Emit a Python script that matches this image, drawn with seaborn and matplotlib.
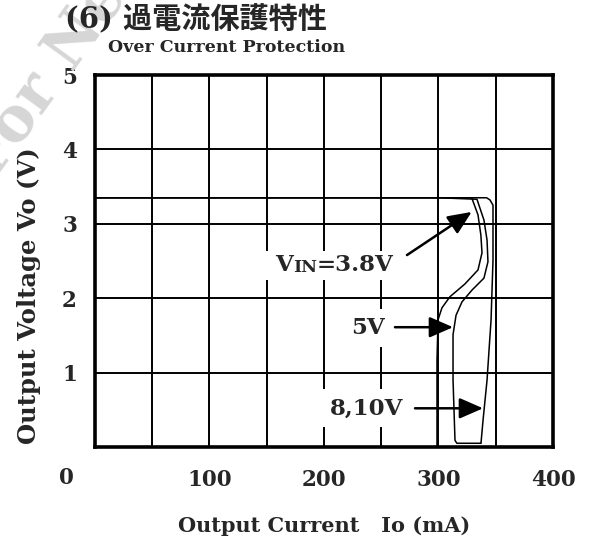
import matplotlib
matplotlib.use("Agg")
import matplotlib.pyplot as plt
from matplotlib.patches import Rectangle
import seaborn as sns
import pandas as pd

# Over-current protection curves: output current Io (mA) vs output voltage Vo (V)
io_38v = [0, 100, 200, 300, 329, 334.5, 337, 338, 334.5, 323, 310, 303, 299.6, 298.7, 298.7]
vo_38v = [3.35, 3.35, 3.35, 3.35, 3.35, 3.12, 2.85, 2.61, 2.38, 2.19, 2.02, 1.87, 1.71, 1.17, 0.0]

io_5v = [0, 100, 200, 300, 333.6, 339.7, 342.4, 343.2, 339.7, 329.3, 320.5, 315.3, 312.7, 312.7, 314.4, 316, 337]
vo_5v = [3.35, 3.35, 3.35, 3.35, 3.33, 3.05, 2.78, 2.49, 2.27, 2.11, 1.95, 1.77, 1.51, 0.90, 0.09, 0.05, 0.05]

io_810v = [0, 100, 200, 300, 342, 345, 347.6, 347.6, 345.9, 342.4, 338.9, 337.1]
vo_810v = [3.35, 3.35, 3.35, 3.35, 3.35, 3.32, 3.25, 2.51, 1.71, 0.90, 0.36, 0.05]

x_ticks = [100, 200, 300, 400]
y_ticks = [1, 2, 3, 4, 5]

df = pd.concat([
    pd.DataFrame({"Io": io_38v, "Vo": vo_38v, "curve": "3.8V"}),
    pd.DataFrame({"Io": io_5v, "Vo": vo_5v, "curve": "5V"}),
    pd.DataFrame({"Io": io_810v, "Vo": vo_810v, "curve": "8,10V"}),
], ignore_index=True)

sns.set_style("white")
plt.rcParams["font.family"] = ["DejaVu Serif", "Noto Sans CJK JP"]

fig = plt.figure(figsize=(5.97, 5.42), dpi=100)
ax = fig.add_axes([0.1591, 0.1753, 0.7672, 0.6863])

# faint watermark behind everything
fig.text(-0.011, 0.664, "For New Design", rotation=54, rotation_mode="anchor",
         ha="left", va="baseline", fontsize=44, color="#d6d6d6",
         family="DejaVu Serif", fontweight="bold", zorder=0)

ax.set_xlim(0, 400)
ax.set_ylim(0, 5)
ax.patch.set_alpha(0)

ax.set_xticks(x_ticks, labels=[str(v) for v in x_ticks])
ax.set_xticks(range(0, 401, 50), minor=True)
ax.set_yticks(y_ticks, labels=[str(v) for v in y_ticks])
ax.grid(True, which="both", color="black", linewidth=1.4)
ax.set_axisbelow(True)
ax.tick_params(axis="x", which="both", length=0, pad=16, labelsize=15.5)
ax.tick_params(axis="y", which="both", length=0, pad=13, labelsize=15.5)
for lab in ax.get_xticklabels() + ax.get_yticklabels():
    lab.set_fontweight("bold")

for sp in ax.spines.values():
    sp.set_visible(True)
    sp.set_color("black")
    sp.set_linewidth(2.6)

sns.lineplot(data=df, x="Io", y="Vo", units="curve", estimator=None, sort=False,
             color="black", linewidth=1.1, ax=ax, zorder=4, legend=False)

# the origin label sits at the corner, below and left of the frame
ax.text(-24.5, -0.42, "0", ha="center", va="center", fontsize=15.5,
        fontweight="bold", clip_on=False)

ax.set_xlabel("Output Current   Io (mA)", fontsize=15, fontweight="bold", labelpad=18)
ax.set_ylabel("Output Voltage Vo (V)", fontsize=17.5, fontweight="bold")
ax.yaxis.set_label_coords(-0.118, 0.406)

# curve labels with arrows
lab_fs = 16.5
box = dict(boxstyle="square,pad=0.35", facecolor="white", edgecolor="none")
arrow = dict(arrowstyle="-|>,head_length=0.8,head_width=0.35", color="black",
             lw=1.8, mutation_scale=18, shrinkA=0, shrinkB=0)

# white backing behind the composed input-voltage label
ax.add_patch(Rectangle((149, 2.24), 119, 0.40, facecolor="white",
                       edgecolor="none", zorder=3))
tV = ax.text(157, 2.45, "V", ha="left", va="center", fontsize=lab_fs,
             fontweight="bold", zorder=3.5)
tIN = ax.annotate("IN", xy=(1, 0), xycoords=tV, ha="left", va="bottom",
                  fontsize=12.5, fontweight="bold", zorder=3.5)
ax.annotate("=3.8V", xy=(1, 0), xycoords=tIN, ha="left", va="bottom",
            fontsize=lab_fs, fontweight="bold", zorder=3.5)
ax.annotate("", xy=(329, 3.16), xytext=(272.5, 2.58), arrowprops=arrow, zorder=5)

ax.text(238.4, 1.60, "5V", ha="center", va="center", fontsize=lab_fs,
        fontweight="bold", bbox=box, zorder=3)
ax.annotate("", xy=(312.7, 1.61), xytext=(262, 1.61), arrowprops=arrow, zorder=5)

ax.text(237.6, 0.52, "8,10V", ha="center", va="center", fontsize=lab_fs,
        fontweight="bold", bbox=box, zorder=3)
ax.annotate("", xy=(338.9, 0.52), xytext=(279.5, 0.52), arrowprops=arrow, zorder=5)

# titles
fig.text(65 / 597, 1 - 20 / 542, "(6) 過電流保護特性", ha="left", va="center",
         fontsize=21, fontweight="bold")
fig.text(108 / 597, 1 - 48 / 542, "Over Current Protection", ha="left", va="center",
         fontsize=12.5, fontweight="bold")

fig.savefig("out.png", dpi=100, facecolor="white")
